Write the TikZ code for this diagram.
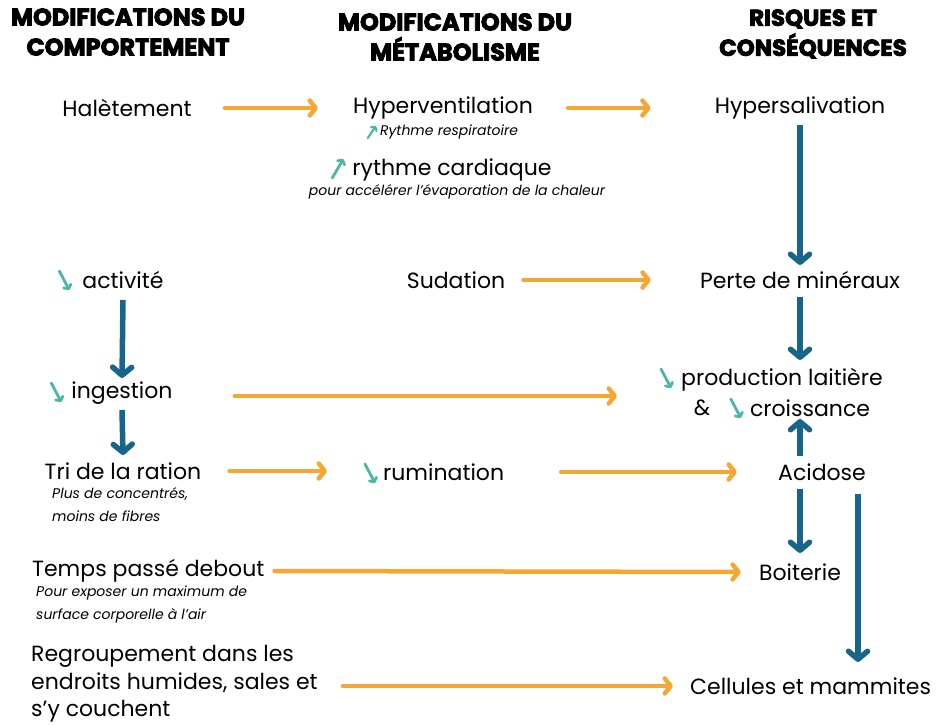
\documentclass[tikz,border=0pt]{standalone}
\usepackage{fontspec}
\setmainfont{Poppins}
\newfontfamily\headf{Poppins}[FakeBold=3.5]
\usetikzlibrary{arrows.meta}
\definecolor{oran}{HTML}{F6A733}
\definecolor{blu}{HTML}{17658B}
\definecolor{tea}{HTML}{4DB6A4}
\begin{document}
\begin{tikzpicture}[x=1pt,y=-1pt,
  txt/.style={inner sep=0pt,font=\fontsize{22}{26}\selectfont},
  sml/.style={inner sep=0pt,font=\fontsize{14}{23}\selectfont\itshape,align=left},
  hdr/.style={inner sep=0pt,font=\fontsize{24}{30}\headf\bfseries,align=center},
  oarr/.style={draw=oran,line width=4.5pt,line cap=round,-{Straight Barb[round,length=6pt,width=15pt]}},
  barr/.style={draw=blu,line width=5.5pt,-{Straight Barb[round,length=8pt,width=19pt]}},
  dn/.pic={\draw[tea,line width=2.8pt,line cap=round,-{Straight Barb[round,length=3pt,width=8pt]}] (-5,-10) -- (5,9);},
  up/.pic={\draw[tea,line width=2.8pt,line cap=round,-{Straight Barb[round,length=3pt,width=8pt]}] (-6,10) -- (5,-9);},
  upsm/.pic={\draw[tea,line width=2.2pt,line cap=round,-{Straight Barb[round,length=2.5pt,width=6.5pt]}] (-4,6) -- (4,-6);}]
\useasboundingbox (0,0) rectangle (939,725);
% headers
\node[hdr] (h1) at (128,32) {MODIFICATIONS DU\\COMPORTEMENT};
\node[hdr] (h2) at (455,37) {MODIFICATIONS DU\\MÉTABOLISME};
\node[hdr,font=\fontsize{23}{30}\headf\bfseries] (h3) at (813,34) {RISQUES ET\\CONSÉQUENCES};
% row 1
\node[txt] (hal) at (127,108) {Halètement};
\node[txt] (hyp) at (443,108) {Hyperventilation};
\node[sml] (rr) at (449,132) {Rythme respiratoire};
\pic at ([xshift=-8]rr.west) {upsm};
\node[txt] (rc) at (452,170) {rythme cardiaque};
\pic at ([xshift=-14,yshift=2]rc.west) {up};
\node[sml] (pour) at (457,192) {pour accélérer l’évaporation de la chaleur};
\node[txt] (hsal) at (800,108) {Hypersalivation};
% row 2
\node[txt] (act) at (123,280) {activité};
\pic at ([xshift=-18,yshift=-1]act.west) {dn};
\node[txt] (sud) at (456,280) {Sudation};
\node[txt] (perte) at (800,280) {Perte de minéraux};
% row 3
\node[txt] (ing) at (122,393) {ingestion};
\pic at ([xshift=-15]ing.west) {dn};
\node[txt,anchor=west] (prod) at (681,380) {production laitière};
\pic at ([xshift=-15,yshift=1]prod.west) {dn};
\node[txt] (croi) at (810,408) {croissance};
\pic at ([xshift=-14,yshift=-1]croi.west) {dn};
\node[txt] (amp) at (702,408) {\&};
% row 4
\node[txt] (tri) at (123,471) {Tri de la ration};
\node[sml,anchor=north west] (plus) at (52,487) {Plus de concentrés,\\moins de fibres};
\node[txt,anchor=west] (rum) at (383,472) {rumination};
\pic at ([xshift=-13,yshift=-2]rum.west) {dn};
\node[txt] (acid) at (822,472) {Acidose};
% row 5
\node[txt,anchor=west] (temps) at (32,571) {Temps passé debout};
\node[sml,anchor=north west] (pexp) at (36,586) {Pour exposer un maximum de\\surface corporelle à l’air};
\node[txt] (boit) at (800,572) {Boiterie};
% row 6
\node[txt,anchor=west,align=left,font=\fontsize{22}{27.5}\selectfont] (regr) at (31,684) {Regroupement dans les\\endroits humides, sales et\\s’y couchent};
\node[txt,anchor=west] (cell) at (690,686) {Cellules et mammites};
% orange arrows
\draw[oarr] ([xshift=33]hal.east) -- ([xshift=-35]hyp.west);
\draw[oarr] ([xshift=35]hyp.east) -- ([xshift=-64]hsal.west);
\draw[oarr] ([xshift=18]sud.east) -- ([xshift=-49]perte.west);
\draw[oarr] ([xshift=62,yshift=-3]ing.east) -- ([xshift=-64,yshift=-3]prod.west |- ing.east);
\draw[oarr] ([xshift=28]tri.east) -- ([xshift=-56]rum.west |- tri.east);
\draw[oarr] ([xshift=57]rum.east) -- ([xshift=-41]acid.west);
\draw[oarr] ([xshift=10]temps.east) -- ([xshift=-18]boit.west);
\draw[oarr] ([xshift=25]regr.east |- cell.west) -- ([xshift=-17]cell.west);
% blue arrows
\draw[barr] (hsal.south |- 0,125) -- (perte.north |- 0,265);
\draw[barr] (perte.south |- 0,297) -- (perte.south |- 0,360);
\draw[barr] (act.south |- 0,300) -- (ing.north |- 0,378);
\draw[barr] (ing.south |- 0,410) -- (tri.north |- 0,455);
\draw[barr] (boit.north |- 0,456) -- (boit.north |- 0,419);
\draw[barr] (boit.north |- 0,489) -- (boit.north |- 0,553);
\draw[barr] ([xshift=58]boit.north |- 0,494) -- ([xshift=58]boit.north |- 0,662);
\end{tikzpicture}
\end{document}
